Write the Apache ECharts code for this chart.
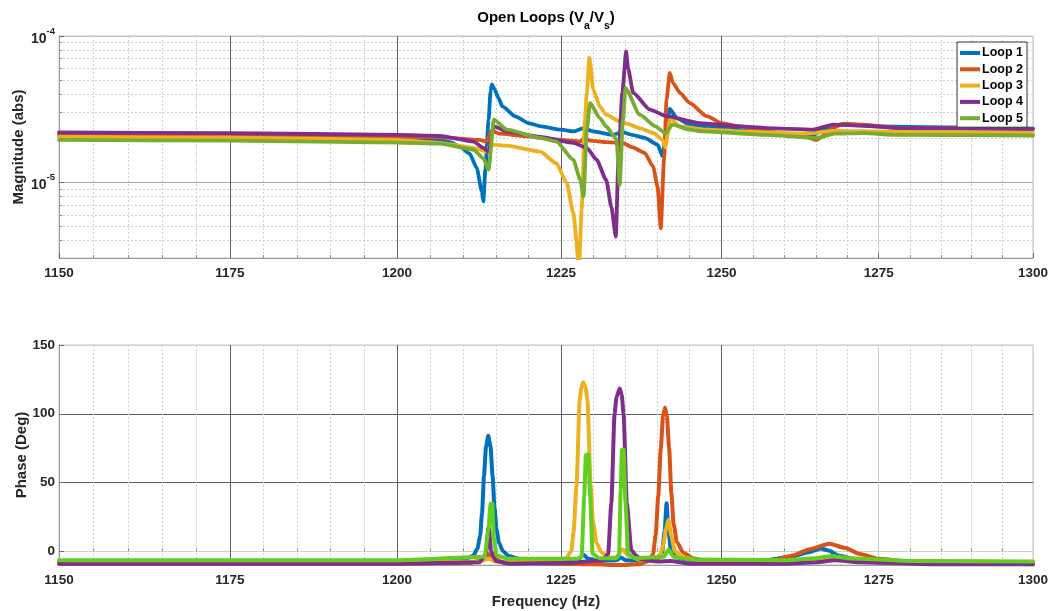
<!DOCTYPE html>
<html>
<head>
<meta charset="utf-8">
<title>Open Loops (Va/Vs)</title>
<script src="https://cdn.jsdelivr.net/npm/echarts@6/dist/echarts.min.js"></script>
<style>
  html, body { margin: 0; padding: 0; background: #ffffff; }
  #chart { width: 1054px; height: 611px; }
</style>
</head>
<body>
<div id="chart"></div>
<script>
// ---- axis ticks ----
const freqTicks = [1150, 1175, 1200, 1225, 1250, 1275, 1300];
const freqMinorTicks = [1155, 1160, 1165, 1170, 1180, 1185, 1190, 1195, 1205, 1210, 1215, 1220,
  1230, 1235, 1240, 1245, 1255, 1260, 1265, 1270, 1280, 1285, 1290, 1295];
const magTicks = [1e-5, 1e-4];
const magMinorTicks = [4e-6, 5e-6, 6e-6, 7e-6, 8e-6, 9e-6, 2e-5, 3e-5, 4e-5, 5e-5, 6e-5, 7e-5, 8e-5, 9e-5];
const phaseTicks = [0, 50, 100, 150];

const loopNames = ['Loop 1', 'Loop 2', 'Loop 3', 'Loop 4', 'Loop 5'];

// ---- magnitude |Va/Vs| : [frequency (Hz), magnitude] ----
const loop1Mag = [
  [1150, 2.07e-5], [1175, 2.04e-5], [1200, 1.99e-5], [1206.5, 1.95e-5], [1208, 1.88e-5],
  [1209.5, 1.76e-5], [1211, 1.57e-5], [1212.1, 1.25e-5], [1212.85, 8.7e-6], [1213.1, 7.4e-6],
  [1213.4, 1.22e-5], [1213.9, 2.68e-5], [1214.2, 4.19e-5], [1214.4, 4.66e-5], [1214.8, 4.34e-5],
  [1215.4, 3.77e-5], [1216, 3.30e-5], [1218, 2.82e-5], [1220, 2.54e-5], [1222, 2.41e-5],
  [1225, 2.29e-5], [1227, 2.23e-5], [1228.5, 2.35e-5], [1230, 2.23e-5], [1233, 2.11e-5],
  [1234.5, 2.20e-5], [1236, 2.11e-5], [1238, 2.01e-5], [1240, 1.81e-5], [1240.8, 1.50e-5],
  [1241.3, 2.20e-5], [1241.9, 3.17e-5], [1243, 2.75e-5], [1245, 2.48e-5], [1248, 2.41e-5],
  [1250, 2.35e-5], [1255, 2.23e-5], [1260, 2.11e-5], [1263, 2.04e-5], [1264.5, 2.11e-5],
  [1266.7, 2.36e-5], [1268.7, 2.48e-5], [1270, 2.48e-5], [1275, 2.41e-5], [1290, 2.36e-5],
  [1300, 2.33e-5]
];
const loop2Mag = [
  [1150, 2.11e-5], [1175, 2.09e-5], [1200, 2.05e-5], [1206.5, 2.03e-5], [1212.5, 1.95e-5],
  [1213.6, 1.90e-5], [1214.4, 2.26e-5], [1215.5, 2.15e-5], [1220, 2.06e-5], [1225, 1.95e-5],
  [1228, 1.90e-5], [1228.6, 2.01e-5], [1229.5, 1.93e-5], [1232, 1.88e-5], [1234.5, 1.86e-5],
  [1236, 1.74e-5], [1238, 1.59e-5], [1239.3, 1.28e-5], [1240, 9.3e-6], [1240.5, 4.85e-6],
  [1241, 1.43e-5], [1241.4, 3.67e-5], [1241.9, 5.60e-5], [1242.4, 4.78e-5], [1243.5, 4.08e-5],
  [1245, 3.49e-5], [1247.7, 2.83e-5], [1250, 2.54e-5], [1253, 2.41e-5], [1257, 2.23e-5],
  [1263, 2.06e-5], [1265.1, 1.95e-5], [1267.7, 2.35e-5], [1269.3, 2.52e-5], [1272.5, 2.48e-5],
  [1278.4, 2.35e-5], [1300, 2.32e-5]
];
const loop3Mag = [
  [1150, 2.05e-5], [1175, 2.02e-5], [1200, 1.95e-5], [1206.5, 1.86e-5], [1211.6, 1.72e-5],
  [1213.7, 1.62e-5], [1214.2, 1.81e-5], [1216.7, 1.78e-5], [1221.8, 1.62e-5], [1224.3, 1.35e-5],
  [1225.9, 9.9e-6], [1226.9, 6.2e-6], [1227.8, 2.7e-6], [1228.2, 6.5e-6], [1228.7, 2.68e-5],
  [1229.0, 4.08e-5], [1229.4, 7.10e-5], [1230.0, 4.30e-5], [1231.0, 3.30e-5], [1232.0, 2.90e-5],
  [1234.1, 2.61e-5], [1234.9, 2.54e-5], [1237.2, 2.35e-5], [1239.3, 2.18e-5], [1240.8, 1.95e-5],
  [1241.2, 1.74e-5], [1242.0, 2.75e-5], [1243.5, 2.41e-5], [1247.7, 2.29e-5], [1252.9, 2.23e-5],
  [1263, 2.15e-5], [1268, 2.25e-5], [1280, 2.21e-5], [1300, 2.18e-5]
];
const loop4Mag = [
  [1150, 2.19e-5], [1175, 2.17e-5], [1200, 2.11e-5], [1206.5, 2.08e-5], [1211.6, 1.90e-5],
  [1213.1, 1.72e-5], [1213.9, 1.62e-5], [1214.7, 2.41e-5], [1216.7, 2.23e-5], [1221.8, 2.04e-5],
  [1226.9, 1.86e-5], [1229.0, 1.72e-5], [1230.5, 1.43e-5], [1232.0, 1.04e-5], [1232.8, 6.8e-6],
  [1233.5, 4.26e-6], [1233.9, 1.43e-5], [1234.5, 4.08e-5], [1235.1, 7.83e-5], [1235.4, 6.00e-5],
  [1236.2, 4.08e-5], [1238.8, 3.14e-5], [1241.4, 2.83e-5], [1246.6, 2.54e-5], [1252.9, 2.41e-5],
  [1257.1, 2.35e-5], [1264.5, 2.29e-5], [1267.7, 2.48e-5], [1272.5, 2.44e-5], [1278.4, 2.35e-5],
  [1300, 2.32e-5]
];
const loop5Mag = [
  [1150, 1.95e-5], [1175, 1.93e-5], [1200, 1.87e-5], [1206.5, 1.84e-5], [1211.6, 1.67e-5],
  [1213.1, 1.46e-5], [1213.9, 1.22e-5], [1214.7, 2.68e-5], [1216.7, 2.29e-5], [1221.8, 2.01e-5],
  [1224.3, 1.90e-5], [1226.9, 1.43e-5], [1228.0, 1.04e-5], [1228.5, 8.0e-6], [1229.0, 2.29e-5],
  [1229.5, 3.49e-5], [1231.0, 2.75e-5], [1232.0, 2.41e-5], [1233.1, 2.11e-5], [1233.6, 1.95e-5],
  [1234.1, 9.6e-6], [1234.6, 2.68e-5], [1235.0, 4.41e-5], [1237.2, 2.90e-5], [1239.7, 2.41e-5],
  [1240.8, 2.23e-5], [1241.2, 2.15e-5], [1242.3, 2.48e-5], [1245.0, 2.29e-5], [1247, 2.23e-5],
  [1257, 2.11e-5], [1265, 2.01e-5], [1268, 2.15e-5], [1272.5, 2.17e-5], [1278, 2.11e-5],
  [1300, 2.09e-5]
];

// ---- phase (deg) : [frequency (Hz), phase] ----
const loop1Phase = [
  [1150, -7.5], [1200, -7.5], [1208, -7], [1210.5, -5.5], [1211.6, -3], [1212.2, 2], [1212.6, 11],
  [1212.9, 28], [1213.2, 55], [1213.5, 76], [1213.85, 84], [1214.2, 76], [1214.5, 55],
  [1214.8, 32], [1215.1, 16], [1215.5, 6], [1216.1, 0], [1217, -3.5], [1218.5, -5.5], [1221, -6.5],
  [1225, -7], [1227.8, -5.5], [1228.5, -2.5], [1229.2, -5.5], [1231, -7], [1233.6, -6.5],
  [1234.3, -4.5], [1235, -6.5], [1238, -7], [1240, -5.5], [1240.7, -1], [1241.1, 15], [1241.4, 35],
  [1241.7, 15], [1242.1, 0], [1243, -4.5], [1245, -6.5], [1250, -7], [1257, -6.5], [1261, -4],
  [1264, -0.5], [1265.7, 2], [1267, 0.5], [1268.5, -3], [1271, -5.5], [1276, -7], [1285, -7.5],
  [1300, -8]
];
const loop2Phase = [
  [1150, -9], [1200, -9], [1211, -8.5], [1213.3, -6], [1214.0, -2], [1214.7, -5], [1216, -8],
  [1225, -9], [1230, -9.5], [1234, -10], [1237, -9.5], [1238.6, -7], [1239.3, -2], [1239.7, 12],
  [1240.1, 40], [1240.5, 75], [1240.85, 98], [1241.15, 104.5], [1241.45, 98], [1241.8, 75],
  [1242.15, 42], [1242.5, 20], [1243, 7], [1244, -1], [1245.5, -5], [1248, -7.5], [1253, -8],
  [1258, -6.5], [1261, -3.5], [1264, 1.5], [1267.1, 5.5], [1269.5, 2.5], [1272, -2], [1275, -5.5],
  [1280, -7.5], [1290, -8.5], [1300, -9.5]
];
const loop3Phase = [
  [1150, -8], [1200, -8], [1212.5, -7.5], [1213.9, -5.5], [1215, -7.5], [1224, -7.5],
  [1225.8, -5], [1226.6, 0], [1226.95, 14], [1227.4, 47], [1227.9, 110], [1228.15, 119],
  [1228.45, 123], [1228.8, 119], [1229.1, 110], [1229.6, 47], [1229.95, 22], [1230.5, 6],
  [1231.3, -1], [1232.5, -4.5], [1233.6, -4.5], [1234.5, 1.5], [1235.5, -3.5], [1237.5, -6.5],
  [1240.3, -4.5], [1240.9, 5], [1241.3, 16], [1241.7, 23], [1242.1, 12], [1242.7, 0],
  [1244, -4.5], [1247, -7], [1258, -7.5], [1265, -6.5], [1268, -5.5], [1272, -7], [1285, -8],
  [1300, -8.5]
];
const loop4Phase = [
  [1150, -9], [1200, -9], [1212.5, -8], [1213.5, -2], [1213.9, 18], [1214.3, 0], [1215, -7],
  [1217, -9], [1226, -8.5], [1229, -7.5], [1231.5, -6.5], [1232.3, -2], [1232.8, 35],
  [1233.3, 100], [1233.6, 112], [1234.1, 118.3], [1234.4, 114], [1234.7, 100], [1235.2, 35],
  [1235.9, 1], [1236.6, -3], [1237.5, -6], [1240, -7.5], [1242, -7], [1245, -9], [1260, -9],
  [1265, -8], [1268, -6.5], [1272, -8], [1285, -9.5], [1300, -9.5]
];
const loop5Phase = [
  [1150, -6.5], [1200, -6.5], [1213.3, -4], [1213.85, 15], [1214.2, 34.7], [1214.45, 34.7],
  [1214.7, 10], [1215.1, -3], [1217, -5.5], [1227.5, -5.5], [1228.2, -4], [1228.6, 40],
  [1228.85, 70], [1229.25, 70.5], [1229.5, 40], [1229.9, -2], [1231, -5], [1233.6, -5],
  [1234.0, -2], [1234.25, 45], [1234.45, 74], [1234.7, 74], [1235.0, 35], [1235.4, -2],
  [1236.5, -5], [1241, -4], [1241.7, 1.2], [1242.5, -4], [1245, -6], [1260, -6.5], [1265, -5],
  [1267.5, -3.4], [1270, -5], [1280, -7], [1300, -7.5]
];

const magData = [loop1Mag, loop2Mag, loop3Mag, loop4Mag, loop5Mag];
const phaseData = [loop1Phase, loop2Phase, loop3Phase, loop4Phase, loop5Phase];

const magColors = ['#0072BD', '#D95319', '#EDB120', '#7E2F8E', '#77AC30'];
const phaseColors = ['#0072BD', '#D95319', '#EDB120', '#7E2F8E', '#62CF1F'];

const FONT = '"Liberation Sans", Arial, Helvetica, sans-serif';
const TEXT = '#262626';
const FREQ_MIN = 1150, FREQ_MAX = 1300;
const MAG_MIN = 3.04e-6, MAG_MAX = 1e-4;

const chart = echarts.init(document.getElementById('chart'), null, { renderer: 'canvas' });

function freqMajorAxis(gridIndex, colors) {
  return {
    type: 'log', logBase: 10, gridIndex: gridIndex, position: 'bottom',
    min: FREQ_MIN, max: FREQ_MAX,
    axisLine: { show: true, onZero: false, lineStyle: { color: '#9a9a9a', width: 1 } },
    axisTick: { show: true, inside: true, length: 5, customValues: freqTicks, lineStyle: { color: '#6a6a6a' } },
    axisLabel: {
      show: true, customValues: freqTicks, margin: 8, color: TEXT,
      fontFamily: FONT, fontSize: 13.5, fontWeight: 'bold',
      formatter: v => String(Math.round(v))
    },
    splitLine: { show: true, lineStyle: { color: colors, width: 1 } },
    minorTick: { show: false }, minorSplitLine: { show: false }
  };
}
function freqMinorAxis(gridIndex) {
  return {
    type: 'log', logBase: 10, gridIndex: gridIndex, position: 'bottom',
    min: FREQ_MIN, max: FREQ_MAX,
    axisLine: { show: false },
    axisTick: { show: true, inside: true, length: 3, customValues: freqMinorTicks, lineStyle: { color: '#8a8a8a' } },
    axisLabel: { show: false },
    splitLine: { show: true, lineStyle: { color: '#cfcfcf', width: 1, type: [2, 2] } }
  };
}

const series = [];
loopNames.forEach((name, i) => {
  series.push({
    name: name, type: 'line', xAxisIndex: 0, yAxisIndex: 0,
    data: magData[i], showSymbol: false, symbol: 'none',
    smooth: 0.2, smoothMonotone: 'x',
    clip: true, z: 3 + i,
    lineStyle: { color: magColors[i], width: 3.8, join: 'round', cap: 'round' },
    itemStyle: { color: magColors[i] },
    emphasis: { disabled: true }
  });
});
loopNames.forEach((name, i) => {
  series.push({
    name: name, type: 'line', xAxisIndex: 2, yAxisIndex: 2,
    data: phaseData[i], showSymbol: false, symbol: 'none',
    smooth: 0.2, smoothMonotone: 'x',
    clip: true, z: 3 + i,
    lineStyle: { color: phaseColors[i], width: 4, join: 'round', cap: 'round' },
    itemStyle: { color: phaseColors[i] },
    emphasis: { disabled: true }
  });
});

const option = {
  animation: false,
  backgroundColor: '#ffffff',
  textStyle: { fontFamily: FONT },
  graphic: [{
    type: 'text', x: 546, y: 19, z: 10,
    style: {
      text: '{m|Open Loops (V}{s|a}{m|/V}{s|s}{m|)}',
      align: 'center', verticalAlign: 'middle',
      fill: '#000',
      rich: {
        m: { fontFamily: FONT, fontSize: 15, fontWeight: 'bold', lineHeight: 17, verticalAlign: 'top', fill: '#000' },
        s: { fontFamily: FONT, fontSize: 10.5, fontWeight: 'bold', lineHeight: 11, padding: [10, 0, 0, 0], verticalAlign: 'top', fill: '#000' }
      }
    }
  }],
  legend: {
    data: loopNames,
    orient: 'vertical', right: 27, top: 42,
    icon: 'rect', itemWidth: 20, itemHeight: 4, itemGap: 2.3,
    padding: [4, 4, 2, 3],
    backgroundColor: '#ffffff', borderColor: '#333333', borderWidth: 1,
    textStyle: { fontFamily: FONT, fontSize: 12.5, fontWeight: 'bold', color: '#000', lineHeight: 14, padding: [0, 0, 0, -3] },
    selectedMode: false, z: 20
  },
  grid: [
    { left: 59, right: 21, top: 36, height: 222, show: true, borderColor: '#c4c4c4', borderWidth: 1, backgroundColor: 'transparent' },
    { left: 59, right: 21, top: 345, height: 220, show: true, borderColor: '#c4c4c4', borderWidth: 1, backgroundColor: 'transparent' }
  ],
  xAxis: [
    freqMajorAxis(0, ['#d2d2d2', '#5e5e5e', '#5e5e5e', '#5e5e5e', '#5e5e5e', '#cdcdcd', '#d2d2d2']),
    freqMinorAxis(0),
    Object.assign(freqMajorAxis(1, ['#d2d2d2', '#5e5e5e', '#5e5e5e', '#5e5e5e', '#5e5e5e', '#cdcdcd', '#d2d2d2']), {
      name: 'Frequency (Hz)', nameLocation: 'middle', nameGap: 29, nameMoveOverlap: false,
      nameTextStyle: { fontFamily: FONT, fontSize: 15, fontWeight: 'bold', color: TEXT }
    }),
    freqMinorAxis(1)
  ],
  yAxis: [
    {
      type: 'log', logBase: 10, gridIndex: 0, position: 'left',
      min: MAG_MIN, max: MAG_MAX,
      name: 'Magnitude (abs)', nameLocation: 'middle', nameGap: 32.5, nameRotate: 90, nameMoveOverlap: false,
      nameTextStyle: { fontFamily: FONT, fontSize: 15, fontWeight: 'bold', color: TEXT },
      axisLine: { show: true, lineStyle: { color: '#9a9a9a', width: 1 } },
      axisTick: { show: true, inside: true, length: 5, customValues: magTicks, lineStyle: { color: '#6a6a6a' } },
      axisLabel: {
        show: true, customValues: magTicks, margin: 4, color: TEXT,
        formatter: v => '{b|10}{e|' + Math.round(Math.log10(v)) + '}',
        rich: {
          b: { fontFamily: FONT, fontSize: 14, fontWeight: 'bold', color: TEXT, lineHeight: 20, verticalAlign: 'bottom' },
          e: { fontFamily: FONT, fontSize: 9.5, fontWeight: 'bold', color: TEXT, lineHeight: 20, verticalAlign: 'top' }
        }
      },
      splitLine: { show: true, lineStyle: { color: ['#a8a8a8', '#c4c4c4'], width: 1 } }
    },
    {
      type: 'log', logBase: 10, gridIndex: 0, position: 'left',
      min: MAG_MIN, max: MAG_MAX,
      axisLine: { show: false },
      axisTick: { show: true, inside: true, length: 3, customValues: magMinorTicks, lineStyle: { color: '#8a8a8a' } },
      axisLabel: { show: false },
      splitLine: { show: true, lineStyle: { color: '#cfcfcf', width: 1, type: [2, 2] } }
    },
    {
      type: 'value', gridIndex: 1, position: 'left',
      min: -10, max: 150,
      name: 'Phase (Deg)', nameLocation: 'middle', nameGap: 29.5, nameRotate: 90, nameMoveOverlap: false,
      nameTextStyle: { fontFamily: FONT, fontSize: 15, fontWeight: 'bold', color: TEXT },
      axisLine: { show: true, onZero: false, lineStyle: { color: '#9a9a9a', width: 1 } },
      axisTick: { show: true, inside: true, length: 5, customValues: phaseTicks, lineStyle: { color: '#6a6a6a' } },
      axisLabel: {
        show: true, customValues: phaseTicks, margin: 4, color: TEXT,
        fontFamily: FONT, fontSize: 13.5, fontWeight: 'bold'
      },
      splitLine: { show: true, lineStyle: { color: ['#cfcfcf', '#5e5e5e', '#5e5e5e', '#cfcfcf'], width: 1 } }
    }
  ],
  series: series
};

chart.setOption(option);
</script>
</body>
</html>
